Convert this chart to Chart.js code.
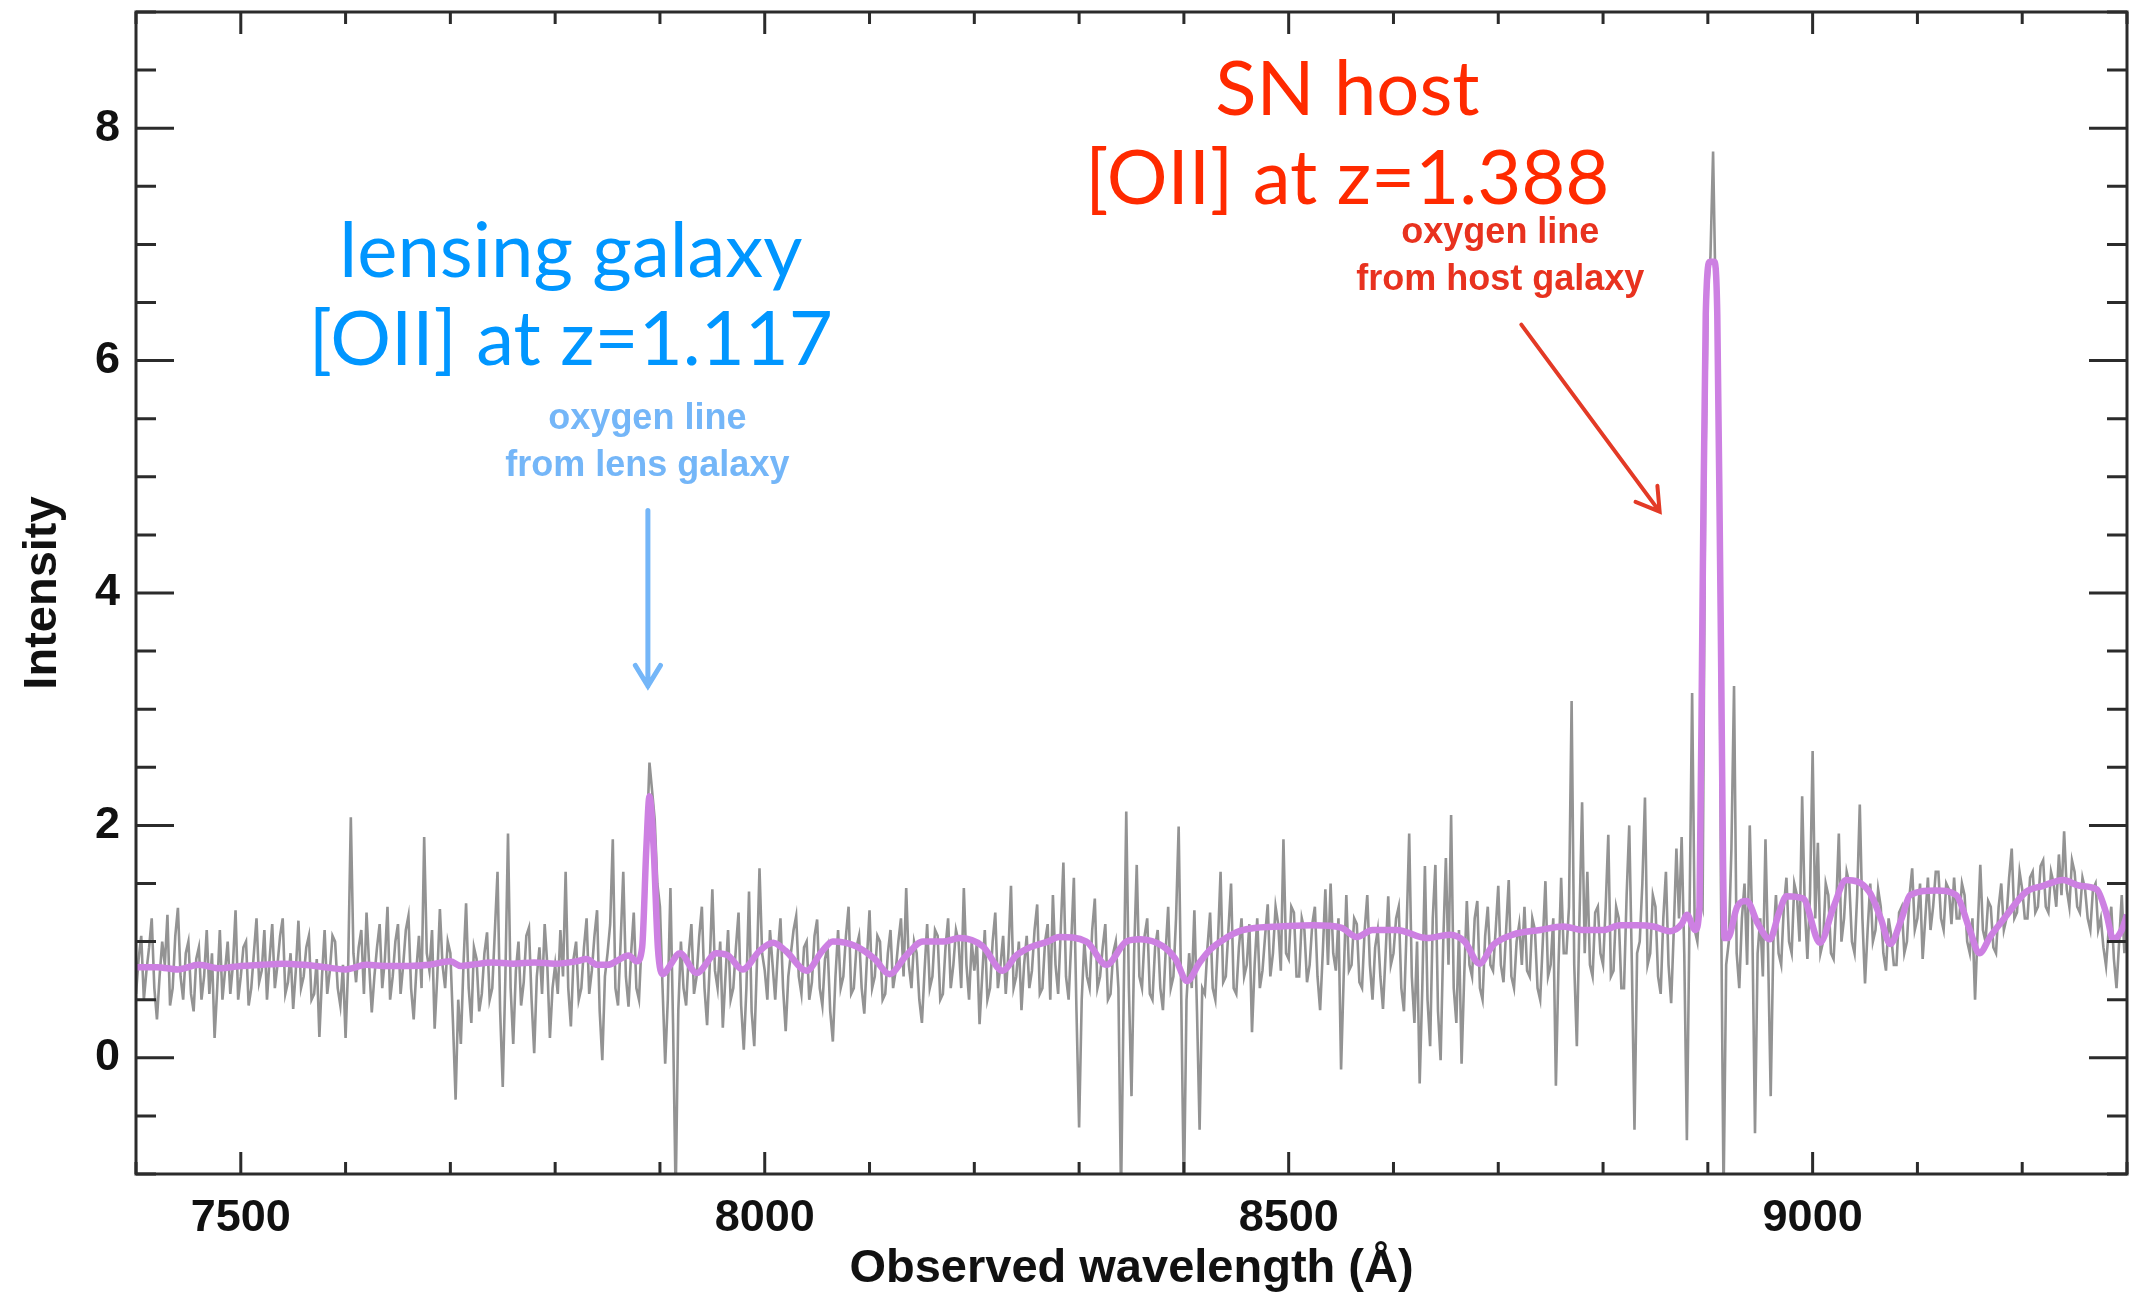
<!DOCTYPE html>
<html>
<head>
<meta charset="utf-8">
<script src="https://cdn.jsdelivr.net/npm/chart.js@4.4.0/dist/chart.umd.min.js"></script>
<style>
  body { margin: 0; background: #fff; }
  #wrap { width: 2130px; height: 1294px; }
</style>
</head>
<body>
<div id="wrap"><canvas id="spectrum" width="2130" height="1294"></canvas></div>
<script>
// Observed spectrum, sampled every 2.5 A from 7400 A (one row = 100 A)
var specStart = 7400;
var specStep = 2.5;
var specFlux = [
  0.55, 0.85, 1.05, 0.5, 0.75, 0.95, 1.2, 0.6, 0.33, 0.7, 1.0, 0.8, 1.23, 0.45, 0.6, 1.05, 1.29, 0.7, 0.5, 0.9, 1.0, 0.55, 0.4, 0.85, 0.95, 0.5, 0.7, 1.1, 0.55, 0.9, 0.17, 0.6, 1.1, 0.5, 0.75, 1.0, 0.55, 0.8, 1.27, 0.5,
  0.7, 0.95, 1.0, 0.45, 0.6, 0.9, 1.2, 0.65, 0.75, 1.1, 0.5, 0.85, 1.15, 0.6, 0.8, 1.05, 1.2, 0.55, 0.65, 0.9, 0.42, 0.75, 1.18, 0.6, 0.7, 0.95, 1.05, 0.5, 0.55, 0.85, 0.18, 0.7, 1.1, 0.55, 0.75, 1.05, 1.0, 0.6, 0.45, 0.8,
  0.17, 0.8, 2.07, 0.9, 0.65, 0.95, 1.1, 0.55, 1.25, 0.8, 0.39, 0.7, 0.95, 1.15, 0.6, 0.85, 1.3, 0.5, 0.7, 1.0, 1.15, 0.55, 0.8, 1.1, 1.22, 0.6, 0.33, 0.75, 1.05, 0.6, 1.9, 0.9, 0.75, 1.1, 0.25, 0.7, 1.28, 0.8, 0.6, 1.0,
  0.9, 0.3, -0.36, 0.5, 0.12, 0.8, 1.33, 0.6, 0.3, 0.95, 0.85, 0.4, 0.55, 0.9, 1.08, 0.5, 0.6, 1.1, 1.6, 0.4, -0.25, 0.7, 1.93, 0.6, 0.12, 0.75, 1.0, 0.45, 0.65, 1.05, 1.12, 0.5, 0.04, 0.7, 0.95, 0.55, 1.15, 0.8, 0.17, 0.6,
  0.8, 0.55, 1.1, 0.7, 1.6, 0.6, 0.27, 0.85, 1.0, 0.5, 0.6, 0.95, 1.2, 0.55, 0.75, 1.05, 1.27, 0.4, -0.02, 0.7, 0.9, 1.15, 1.88, 0.6, 0.45, 1.0, 1.6, 0.7, 0.44, 0.9, 1.25, 0.6, 0.5, 1.0, 1.35, 1.9, 2.54, 2.3, 2.05, 1.5,
  1.3, 0.6, -0.05, 0.5, 1.46, 0.3, -1.2, 0.4, 1.0, 0.6, 0.45, 0.9, 1.15, 0.55, 0.7, 1.05, 1.3, 0.6, 0.28, 0.8, 1.45, 0.75, 0.6, 1.0, 0.26, 0.7, 1.1, 0.5, 0.6, 0.95, 1.25, 0.45, 0.07, 0.6, 1.43, 0.4, 0.1, 0.8, 1.63, 0.9,
  0.75, 0.5, 1.1, 0.8, 0.5, 0.9, 1.2, 0.6, 0.23, 0.7, 0.9, 1.1, 1.22, 0.7, 0.55, 0.95, 1.0, 0.5, 0.65, 1.05, 1.19, 0.6, 0.45, 0.85, 0.95, 0.4, 0.14, 0.7, 1.1, 0.6, 0.7, 1.05, 1.3, 0.55, 0.6, 0.95, 1.05, 0.6, 0.38, 0.85,
  1.27, 0.6, 0.7, 1.05, 1.0, 0.5, 0.55, 0.9, 1.1, 0.6, 0.75, 1.0, 1.2, 0.7, 1.46, 0.8, 0.6, 1.0, 0.9, 0.5, 0.3, 0.75, 1.15, 0.6, 0.7, 1.1, 1.05, 0.5, 0.55, 0.95, 1.2, 0.6, 0.8, 1.1, 1.0, 0.6, 1.46, 0.8, 0.5, 1.0,
  0.75, 1.0, 0.29, 0.7, 1.1, 0.5, 0.6, 1.0, 1.25, 0.6, 0.8, 1.05, 0.55, 0.9, 1.48, 0.6, 0.7, 1.0, 0.41, 0.8, 1.05, 0.6, 0.75, 1.1, 1.32, 0.55, 0.6, 1.0, 1.15, 0.5, 1.4, 0.8, 0.55, 1.1, 1.68, 0.7, 0.5, 1.0, 1.55, 0.4,
  -0.6, 0.5, 1.0, 0.7, 0.6, 1.1, 1.37, 0.6, 0.7, 0.95, 1.15, 0.5, 0.55, 0.9, 1.0, 0.6, -1.2, 0.5, 2.12, 0.6, -0.33, 0.9, 1.66, 0.7, 0.6, 1.05, 1.2, 0.55, 0.5, 0.95, 1.1, 0.6, 0.41, 0.9, 1.3, 0.6, 0.7, 1.2, 1.99, 0.5,
  -1.2, 0.5, 0.9, 0.6, 1.27, 0.4, -0.62, 0.6, 0.55, 0.95, 1.25, 0.6, 0.5, 1.0, 1.6, 0.65, 0.7, 1.1, 1.5, 0.6, 0.55, 0.95, 1.2, 0.7, 0.8, 1.15, 0.22, 0.8, 1.2, 0.6, 0.75, 1.05, 1.32, 0.7, 0.9, 1.3, 1.15, 0.75, 1.88, 0.9,
  0.85, 1.3, 1.25, 0.7, 0.7, 1.2, 1.1, 0.65, 0.8, 1.15, 1.3, 0.7, 0.41, 0.9, 1.45, 0.8, 1.5, 0.9, 0.75, 1.2, -0.1, 0.7, 1.4, 0.75, 0.8, 1.2, 1.15, 0.65, 0.6, 1.1, 1.4, 0.8, 0.5, 0.95, 1.1, 0.7, 0.42, 0.9, 1.39, 0.8,
  0.9, 1.2, 1.3, 0.6, 0.4, 1.1, 1.93, 0.7, 0.3, 1.0, -0.22, 0.6, 1.65, 0.5, 0.1, 1.2, 1.66, 0.4, -0.02, 1.0, 1.72, 0.8, 2.09, 0.6, 0.3, 1.1, -0.05, 0.7, 1.35, 0.8, 0.7, 1.2, 1.35, 0.6, 0.5, 1.05, 1.3, 0.8, 0.75, 1.1,
  1.48, 0.8, 0.65, 1.1, 1.53, 0.7, 0.6, 1.0, 1.15, 0.8, 1.3, 0.75, 0.7, 1.2, 1.1, 0.6, 0.5, 1.0, 1.52, 0.7, 0.8, 1.2, -0.24, 0.8, 1.55, 0.9, 0.9, 1.3, 3.07, 0.8, 0.1, 1.2, 2.2, 0.9, 1.6, 0.8, 0.7, 1.25, 1.3, 0.9,
  0.8, 1.3, 1.92, 0.7, 0.75, 1.3, 1.2, 0.6, 0.6, 1.4, 2.0, 0.8, -0.62, 0.9, 1.0, 1.5, 2.24, 0.8, 0.9, 1.4, 1.3, 0.7, 0.55, 1.2, 1.6, 0.8, 0.47, 1.1, 1.8, 1.2, 1.9, 0.9, -0.71, 1.2, 3.14, 1.1, 1.0, 1.4, 1.3, 5.0,
  6.6, 6.9, 7.8, 6.5, 6.4, 1.5, -1.2, 0.8, 1.0, 1.8, 3.2, 0.9, 0.6, 1.2, 1.5, 0.8, 2.0, 1.1, -0.65, 0.9, 1.2, 0.7, 1.88, 0.9, -0.33, 1.0, 1.4, 0.9, 0.8, 1.3, 1.55, 1.0, 0.9, 1.5, 1.4, 1.0, 2.25, 1.3, 0.85, 1.4,
  2.64, 1.2, 1.85, 0.9, 1.0, 1.5, 1.4, 0.9, 0.85, 1.3, 1.93, 1.0, 1.2, 1.6, 1.5, 1.0, 0.9, 1.4, 2.18, 1.2, 0.64, 1.1, 1.5, 1.0, 1.1, 1.45, 1.3, 0.9, 0.75, 1.2, 1.05, 0.8, 0.8, 1.25, 1.3, 0.9, 1.0, 1.4, 1.63, 1.1,
  1.2, 1.5, 0.85, 1.2, 1.55, 1.1, 1.3, 1.6, 1.6, 1.2, 1.1, 1.5, 1.45, 1.15, 1.55, 1.2, 1.2, 1.5, 1.4, 1.0, 0.9, 1.2, 0.5, 1.1, 1.66, 1.1, 1.0, 1.35, 1.3, 0.95, 0.9, 1.3, 1.5, 1.1, 1.2, 1.55, 1.8, 1.2, 1.25, 1.6,
  1.45, 1.2, 1.2, 1.55, 1.6, 1.25, 1.3, 1.65, 1.7, 1.3, 1.25, 1.6, 1.5, 1.3, 1.75, 1.4, 1.95, 1.45, 1.3, 1.7, 1.6, 1.3, 1.25, 1.55, 1.45, 1.2, 1.1, 1.45, 1.5, 1.1, 1.2, 0.95, 0.79, 1.1, 1.3, 0.85, 0.6, 1.0, 1.4, 0.9,
  1.2
];

// Smooth model fit (purple)
var modelWave = [
  7400, 7420, 7440, 7460, 7480, 7500, 7520, 7540, 7560, 7580, 7600, 7620, 7640, 7660, 7680,
  7700, 7710, 7720, 7740, 7760, 7780, 7800, 7820, 7830, 7840, 7850, 7860, 7870, 7878, 7883,
  7887, 7890, 7894, 7898, 7903, 7910, 7919, 7935, 7954, 7965, 7979, 7995, 8008, 8020, 8040,
  8055, 8065, 8087, 8105, 8119, 8135, 8151, 8170, 8186, 8208, 8227, 8240, 8253, 8270, 8281,
  8307, 8326, 8345, 8358, 8380, 8392, 8403, 8415, 8425, 8440, 8453, 8470, 8492, 8523, 8550,
  8565, 8580, 8603, 8632, 8654, 8668, 8682, 8695, 8714, 8740, 8762, 8780, 8800, 8816, 8832,
  8848, 8864, 8875, 8880, 8888, 8892, 8895, 8898, 8902, 8906, 8909, 8912, 8916, 8919, 8928,
  8937, 8948, 8959, 8968, 8975, 8991, 9007, 9020, 9032, 9054, 9065, 9074, 9085, 9093, 9118,
  9137, 9150, 9159, 9170, 9182, 9204, 9220, 9239, 9255, 9271, 9280, 9287, 9295, 9300
];
var modelFlux = [
  0.78, 0.78, 0.76, 0.80, 0.77, 0.79, 0.80, 0.81, 0.80, 0.78, 0.76, 0.80, 0.79, 0.79, 0.80,
  0.83, 0.79, 0.80, 0.82, 0.81, 0.82, 0.81, 0.83, 0.85, 0.80, 0.80, 0.84, 0.88, 0.83, 0.95,
  1.8, 2.25, 1.8, 0.95, 0.72, 0.80, 0.90, 0.73, 0.90, 0.88, 0.76, 0.92, 0.99, 0.92, 0.75,
  0.92, 1.0, 0.96, 0.85, 0.72, 0.88, 1.0, 1.0, 1.03, 0.96, 0.75, 0.88, 0.95, 1.0, 1.04,
  1.0, 0.80, 1.0, 1.02, 0.96, 0.85, 0.66, 0.82, 0.93, 1.03, 1.09, 1.12, 1.13, 1.14, 1.12,
  1.04, 1.1, 1.1, 1.03, 1.06, 1.0, 0.81, 0.97, 1.06, 1.10, 1.13, 1.10, 1.1, 1.14, 1.14,
  1.13, 1.09, 1.15, 1.23, 1.1, 1.3, 4.0, 6.4, 6.85, 6.85, 6.4, 4.0, 1.03, 1.03, 1.3,
  1.35, 1.15, 1.02, 1.25, 1.39, 1.37, 0.99, 1.3, 1.53, 1.43, 1.2, 0.98, 1.2, 1.4, 1.44,
  1.40, 1.1, 0.9, 1.05, 1.19, 1.43, 1.48, 1.53, 1.48, 1.45, 1.25, 1.02, 1.1, 1.23
];

var xTickValues = [7500, 8000, 8500, 9000];
var yTickValues = [0, 2, 4, 6, 8];
var xTitle = "Observed wavelength (\u00C5)";
var yTitle = "Intensity";

var tickFont = "'Liberation Sans', Arial, Helvetica, sans-serif";
var noteFont = "Lato, 'Open Sans', sans-serif";

function specPoints() {
  var pts = [];
  for (var i = 0; i < specFlux.length; i++) {
    pts.push({ x: specStart + i * specStep, y: specFlux[i] });
  }
  return pts;
}

function modelPoints() {
  return modelWave.map(function (w, i) {
    return { x: w, y: modelFlux[i] };
  });
}

// frame with inward ticks on all four sides
var frameTicks = {
  id: "frameTicks",
  afterDatasetsDraw: function (chart) {
    var ctx = chart.ctx;
    var a = chart.chartArea;
    var x = chart.scales.x;
    var y = chart.scales.y;
    ctx.save();
    ctx.strokeStyle = "#2b2b2b";
    ctx.lineWidth = 3;
    ctx.beginPath();
    for (var w = 7400; w <= 9300; w += 100) {
      var px = x.getPixelForValue(w);
      var len = w % 500 === 0 ? 22 : 12;
      ctx.moveTo(px, a.bottom);
      ctx.lineTo(px, a.bottom - len);
      ctx.moveTo(px, a.top);
      ctx.lineTo(px, a.top + len);
    }
    for (var v = -1; v <= 9; v += 0.5) {
      var py = y.getPixelForValue(v);
      var l2 = v % 2 === 0 ? 38 : 20;
      ctx.moveTo(a.left, py);
      ctx.lineTo(a.left + l2, py);
      ctx.moveTo(a.right, py);
      ctx.lineTo(a.right - l2, py);
    }
    ctx.stroke();
    ctx.strokeRect(a.left, a.top, a.right - a.left, a.bottom - a.top);
    ctx.restore();
  },
};

function drawArrow(ctx, x1, y1, x2, y2, color, width, head) {
  var ang = Math.atan2(y2 - y1, x2 - x1);
  ctx.strokeStyle = color;
  ctx.lineWidth = width;
  ctx.lineCap = "round";
  ctx.beginPath();
  ctx.moveTo(x1, y1);
  ctx.lineTo(x2, y2);
  ctx.moveTo(x2 - head * Math.cos(ang - 0.55), y2 - head * Math.sin(ang - 0.55));
  ctx.lineTo(x2, y2);
  ctx.lineTo(x2 - head * Math.cos(ang + 0.55), y2 - head * Math.sin(ang + 0.55));
  ctx.stroke();
}

// text labels and arrows, anchored in data coordinates
var notes = {
  id: "notes",
  afterDraw: function (chart) {
    var ctx = chart.ctx;
    var x = chart.scales.x;
    var y = chart.scales.y;
    ctx.save();
    ctx.textAlign = "center";
    ctx.textBaseline = "alphabetic";

    ctx.fillStyle = "#0096ff";
    ctx.font = "76px " + noteFont;
    ctx.fillText("lensing galaxy", x.getPixelForValue(7815), y.getPixelForValue(6.72));
    ctx.fillText("[OII] at z=1.117", x.getPixelForValue(7815), y.getPixelForValue(5.96));

    ctx.fillStyle = "#ff2a00";
    ctx.fillText("SN host", x.getPixelForValue(8556), y.getPixelForValue(8.11));
    ctx.fillText("[OII] at z=1.388", x.getPixelForValue(8556), y.getPixelForValue(7.35));

    ctx.font = "bold 36px " + tickFont;
    ctx.fillStyle = "#74b6f8";
    ctx.fillText("oxygen line", x.getPixelForValue(7888), y.getPixelForValue(5.41));
    ctx.fillText("from lens galaxy", x.getPixelForValue(7888), y.getPixelForValue(5.01));

    ctx.fillStyle = "#e8321f";
    ctx.fillText("oxygen line", x.getPixelForValue(8702), y.getPixelForValue(7.01));
    ctx.fillText("from host galaxy", x.getPixelForValue(8702), y.getPixelForValue(6.61));

    drawArrow(ctx, x.getPixelForValue(7888.5), y.getPixelForValue(4.71),
      x.getPixelForValue(7888.5), y.getPixelForValue(3.2), "#74b6f8", 5, 24);
    drawArrow(ctx, x.getPixelForValue(8722), y.getPixelForValue(6.31),
      x.getPixelForValue(8854), y.getPixelForValue(4.7), "#e33a26", 4, 26);
    ctx.restore();
  },
};

function spectrumChart() {
  new Chart(document.getElementById("spectrum"), {
    type: "line",
    data: {
      datasets: [
        {
          label: "model",
          data: modelPoints(),
          borderColor: "#cd80e2",
          borderWidth: 6.5,
          pointRadius: 0,
          cubicInterpolationMode: "monotone",
          order: 0,
        },
        {
          label: "spectrum",
          data: specPoints(),
          borderColor: "#939393",
          borderWidth: 2.6,
          pointRadius: 0,
          tension: 0,
          order: 1,
        },
      ],
    },
    options: {
      responsive: false,
      animation: false,
      layout: { padding: { top: 12, right: 3, left: 0, bottom: 0 } },
      plugins: {
        legend: { display: false },
        tooltip: { enabled: false },
      },
      scales: {
        x: {
          type: "linear",
          min: 7400,
          max: 9300,
          grid: { display: false, drawTicks: false },
          border: { display: false },
          afterBuildTicks: function (s) {
            s.ticks = xTickValues.map(function (v) { return { value: v }; });
          },
          afterFit: function (s) {
            s.height = 120;
            s.paddingLeft = 0;
            s.paddingRight = 0;
          },
          ticks: {
            autoSkip: false,
            maxRotation: 0,
            padding: 18,
            color: "#111",
            font: { family: tickFont, size: 45, weight: "bold" },
            callback: function (v) { return String(v); },
          },
          title: {
            display: true,
            text: xTitle,
            color: "#111",
            font: { family: tickFont, size: 47, weight: "bold", lineHeight: 1 },
            padding: { top: 0, bottom: 1 },
          },
        },
        y: {
          min: -1,
          max: 9,
          grid: { display: false, drawTicks: false },
          border: { display: false },
          afterBuildTicks: function (s) {
            s.ticks = yTickValues.map(function (v) { return { value: v }; });
          },
          afterFit: function (s) {
            s.width = 136;
            s.paddingTop = 0;
            s.paddingBottom = 0;
          },
          ticks: {
            padding: 16,
            color: "#111",
            font: { family: tickFont, size: 45, weight: "bold" },
            callback: function (v) { return String(v); },
          },
          title: {
            display: true,
            text: yTitle,
            color: "#111",
            font: { family: tickFont, size: 47, weight: "bold", lineHeight: 1 },
            padding: { top: 20, bottom: 0 },
          },
        },
      },
    },
    plugins: [frameTicks, notes],
  });
}

document.addEventListener("DOMContentLoaded", function () {
  spectrumChart();
});
</script>
</body>
</html>
